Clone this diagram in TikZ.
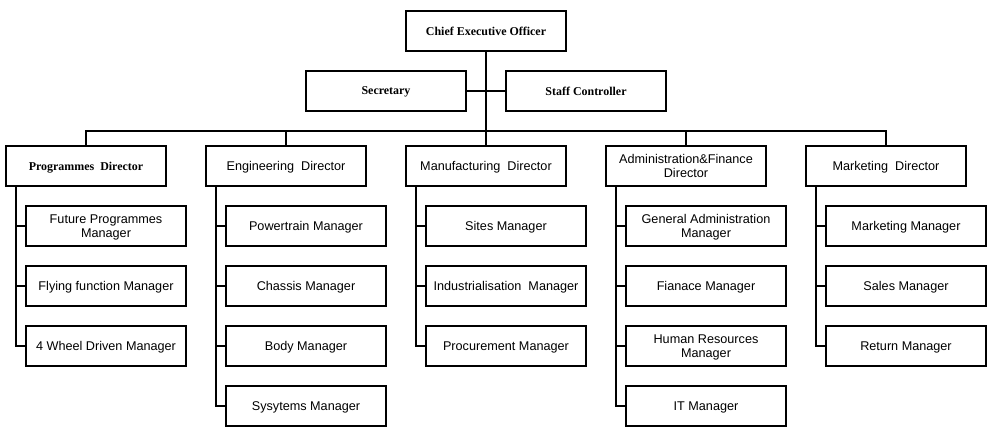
\documentclass[tikz,border=0pt]{standalone}
\usepackage{fontspec}
\setmainfont{Liberation Serif}
\setsansfont{Liberation Sans}

\begin{document}
\begin{tikzpicture}[x=0.025cm, y=-0.025cm, line width=1.2pt,
		box/.style={draw, minimum width=4cm, minimum height=1cm, inner sep=1pt, align=center,
			text depth=0pt, font=\sffamily\fontsize{9}{10}\selectfont},
		serifbox/.style={box, font=\rmfamily\bfseries\fontsize{8.5}{10}\selectfont}]
	\useasboundingbox (0,0) rectangle (992,433);
	% top
	\node[serifbox] (ceo) at (486,31) {Chief Executive Officer};
	\node[serifbox] (sec) at (386,91) {Secretary};
	\node[serifbox] (staff) at (586,91) {Staff Controller};
	% directors
	\node[serifbox] (prog) at (86,166) {Programmes\ \ Director};
	\node[box] (eng) at (286,166) {Engineering\ \ Director};
	\node[box] (manu) at (486,166) {Manufacturing\ \ Director};
	\node[box] (admin) at (686,166) {Administration\&Finance\\Director};
	\node[box] (mark) at (886,166) {Marketing\ \ Director};
	% managers
	\node[box] (prog1) at (106,226) {Future Programmes\\Manager};
	\node[box] (prog2) at (106,286) {Flying function Manager};
	\node[box] (prog3) at (106,346) {4 Wheel Driven Manager};
	\node[box] (eng1) at (306,226) {Powertrain Manager};
	\node[box] (eng2) at (306,286) {Chassis Manager};
	\node[box] (eng3) at (306,346) {Body Manager};
	\node[box] (eng4) at (306,406) {Sysytems Manager};
	\node[box] (manu1) at (506,226) {Sites Manager};
	\node[box] (manu2) at (506,286) {Industrialisation\ \ Manager};
	\node[box] (manu3) at (506,346) {Procurement Manager};
	\node[box] (admin1) at (706,226) {General Administration\\Manager};
	\node[box] (admin2) at (706,286) {Fianace Manager};
	\node[box] (admin3) at (706,346) {Human Resources\\Manager};
	\node[box] (admin4) at (706,406) {IT Manager};
	\node[box] (mark1) at (906,226) {Marketing Manager};
	\node[box] (mark2) at (906,286) {Sales Manager};
	\node[box] (mark3) at (906,346) {Return Manager};
	% connectors
	\coordinate (bus) at (0,131);
	\draw (ceo) -- (manu);
	\draw (sec) -- (staff);
	\draw (prog.north) -- (prog.north |- bus) -- (mark.north |- bus) -- (mark.north);
	\draw (eng.north) -- (eng.north |- bus);
	\draw (admin.north) -- (admin.north |- bus);
	\coordinate (progl) at (16,186);
	\coordinate (engl) at (216,186);
	\coordinate (manul) at (416,186);
	\coordinate (adminl) at (616,186);
	\coordinate (markl) at (816,186);
	\draw (progl) |- (prog3.west);
	\draw (engl) |- (eng4.west);
	\draw (manul) |- (manu3.west);
	\draw (adminl) |- (admin4.west);
	\draw (markl) |- (mark3.west);
	\foreach \m in {prog1,prog2,eng1,eng2,eng3,manu1,manu2,admin1,admin2,admin3,mark1,mark2}
		\draw (\m.west) -- ++(-10,0);
\end{tikzpicture}
\end{document}
